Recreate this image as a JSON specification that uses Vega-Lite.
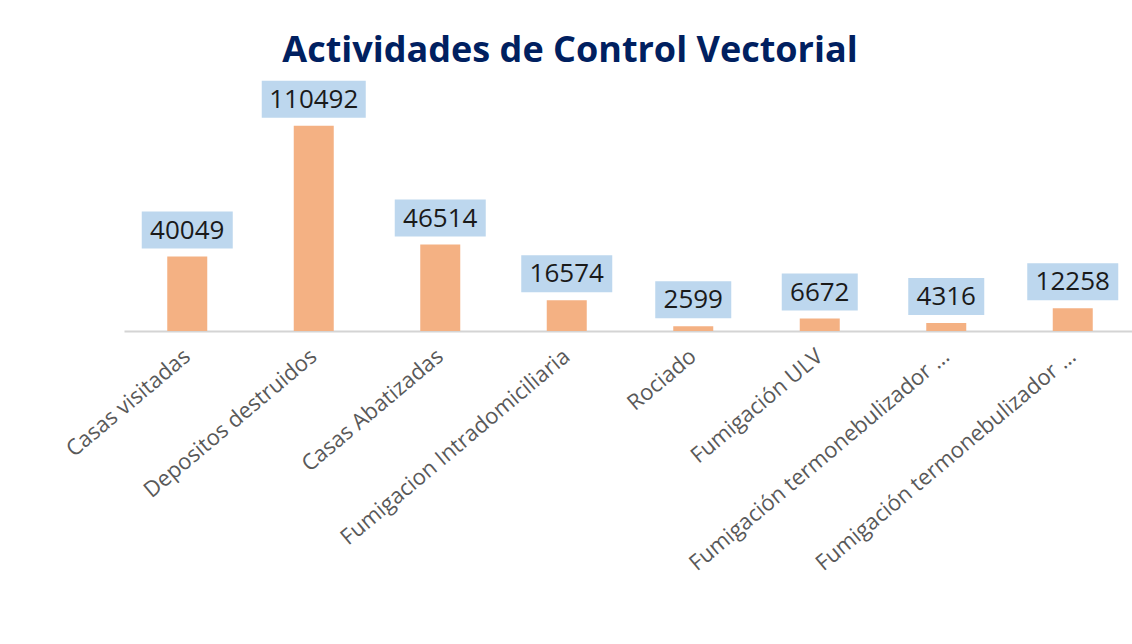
{
  "$schema": "https://vega.github.io/schema/vega-lite/v6.json",
  "width": 1008,
  "height": 223,
  "autosize": {"type": "none"},
  "padding": {"left": 124, "top": 108, "right": 0, "bottom": 313},
  "background": "white",
  "config": {"view": {"stroke": null}},
  "title": {
    "text": "Actividades de Control Vectorial",
    "font": "Open Sans",
    "fontSize": 36,
    "fontWeight": "bold",
    "color": "#002060",
    "anchor": "middle",
    "frame": "group",
    "dx": -58,
    "offset": 11
  },
  "data": {
    "values": [
      {"actividad": "Casas visitadas", "valor": 40049},
      {"actividad": "Depositos destruidos", "valor": 110492},
      {"actividad": "Casas Abatizadas", "valor": 46514},
      {"actividad": "Fumigacion Intradomiciliaria", "valor": 16574},
      {"actividad": "Rociado", "valor": 2599},
      {"actividad": "Fumigación ULV", "valor": 6672},
      {"actividad": "Fumigación termonebulizador …", "valor": 4316},
      {"actividad": "Fumigación termonebulizador … ", "valor": 12258}
    ]
  },
  "encoding": {
    "x": {
      "field": "actividad",
      "type": "nominal",
      "sort": null,
      "scale": {"range": [0, 1012], "paddingInner": 0, "paddingOuter": 0},
      "axis": {
        "title": null,
        "ticks": false,
        "domainColor": "#D4D4D4",
        "domainWidth": 2,
        "labelAngle": -40,
        "labelAlign": "right",
        "labelBaseline": "middle",
        "labelFont": "Open Sans",
        "labelFontSize": 22,
        "labelColor": "#595959",
        "labelPadding": 22,
        "labelLimit": 400
      }
    },
    "y": {
      "field": "valor",
      "type": "quantitative",
      "scale": {"domain": [0, 120000], "nice": false},
      "axis": null
    }
  },
  "layer": [
    {"mark": {"type": "bar", "width": 40, "color": "#F4B183"}},
    {
      "transform": [{"filter": "datum.valor >= 100000"}],
      "mark": {"type": "bar", "width": 104, "color": "#BDD7EE", "yOffset": -45, "y2Offset": -8},
      "encoding": {"y2": {"field": "valor"}}
    },
    {
      "transform": [{"filter": "datum.valor >= 10000 && datum.valor < 100000"}],
      "mark": {"type": "bar", "width": 91, "color": "#BDD7EE", "yOffset": -45, "y2Offset": -8},
      "encoding": {"y2": {"field": "valor"}}
    },
    {
      "transform": [{"filter": "datum.valor < 10000"}],
      "mark": {"type": "bar", "width": 76, "color": "#BDD7EE", "yOffset": -45, "y2Offset": -8},
      "encoding": {"y2": {"field": "valor"}}
    },
    {
      "mark": {"type": "text", "font": "Open Sans", "fontSize": 26, "color": "#1a1a1a", "baseline": "middle", "align": "center", "yOffset": -26},
      "encoding": {"text": {"field": "valor", "type": "quantitative", "format": "d"}}
    }
  ]
}
